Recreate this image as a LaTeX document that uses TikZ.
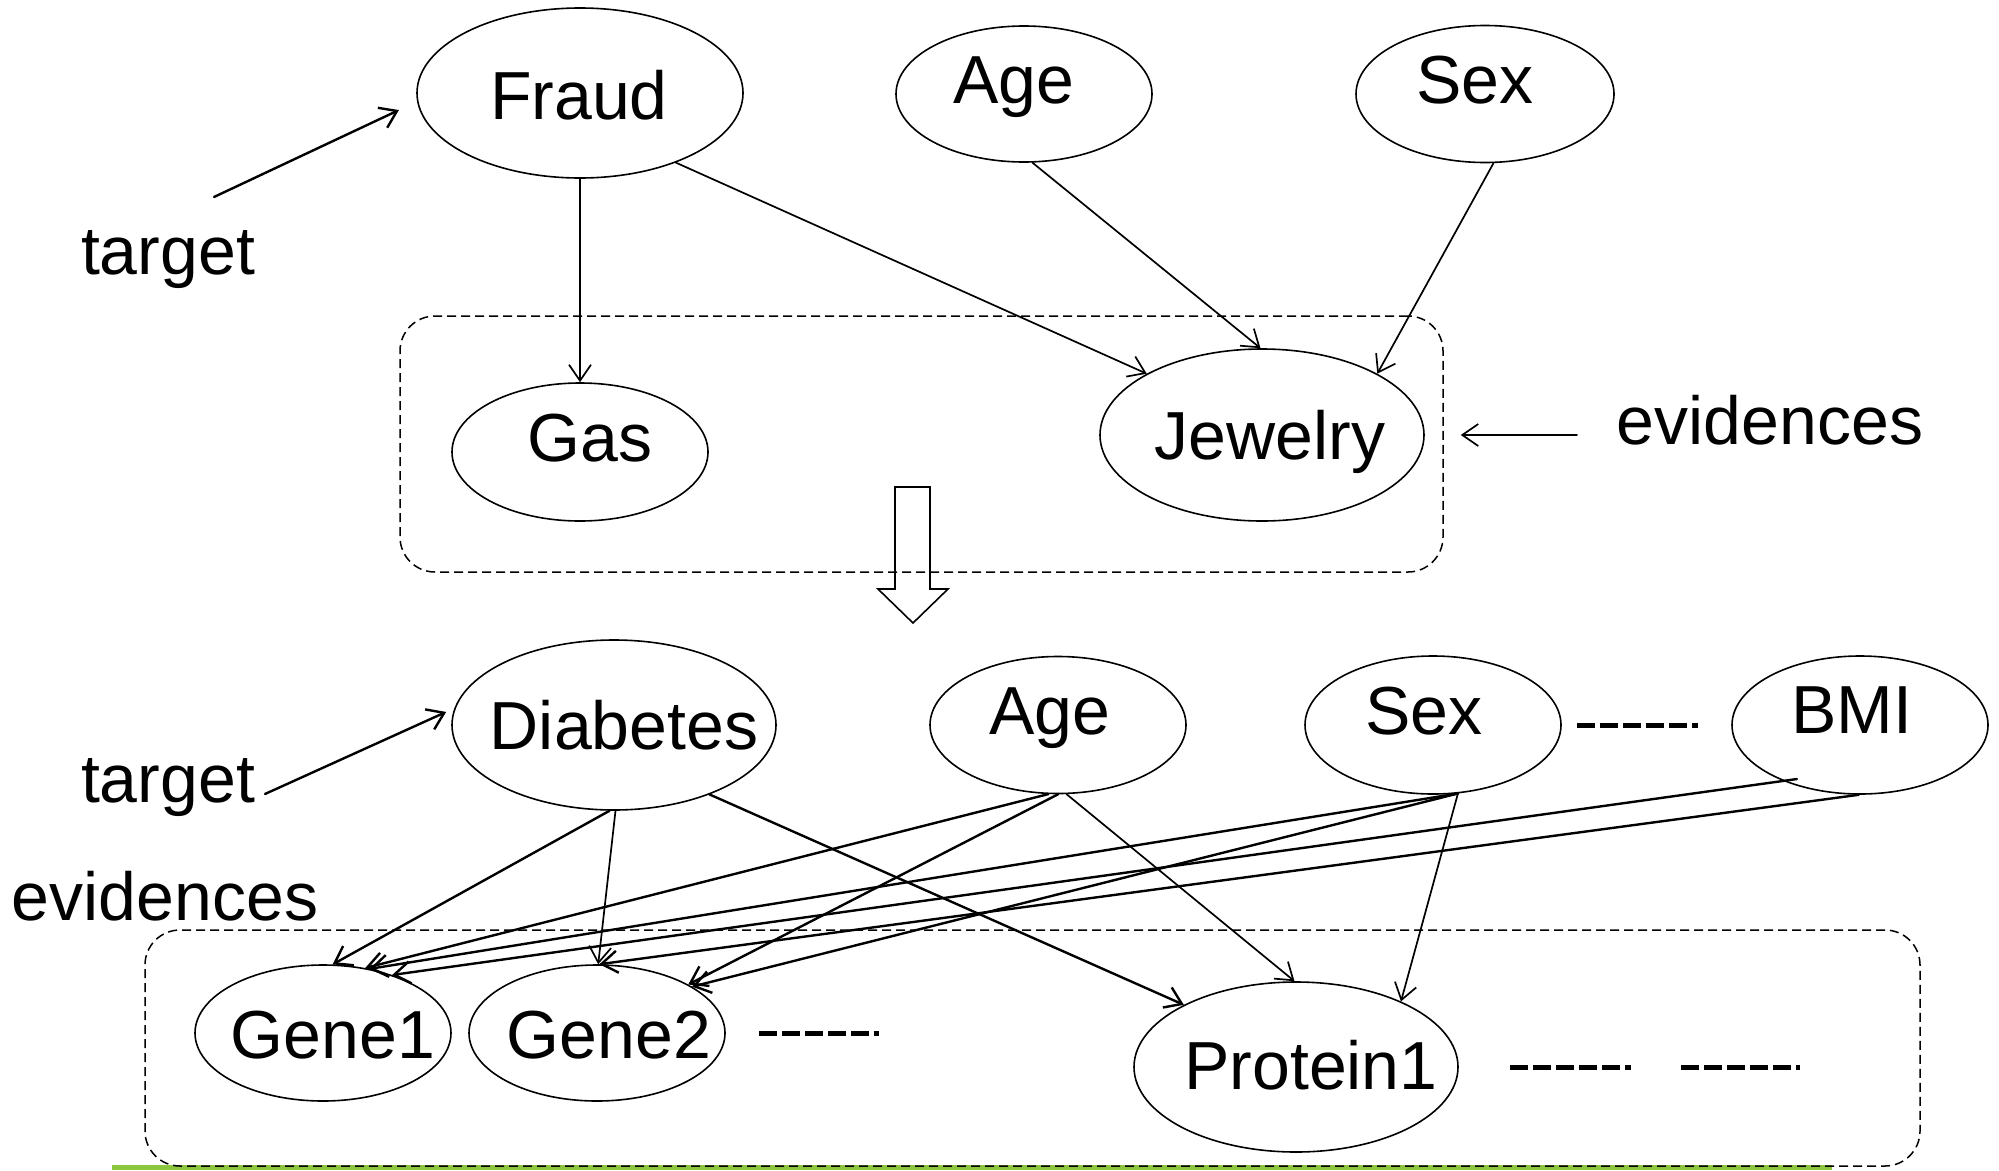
\documentclass[tikz,border=0pt]{standalone}
\usepackage{fontspec}
\setmainfont{Liberation Sans}
\usetikzlibrary{arrows.meta,shapes.geometric}
\definecolor{leaf}{RGB}{140,198,63}
\begin{document}
\begin{tikzpicture}[x=1pt,y=-1pt,
  var/.style={draw, ellipse, line width=1.6pt, inner sep=0pt, fill=white},
  lbl/.style={inner sep=0pt, anchor=base, font=\fontsize{68}{80}\selectfont},
  edge/.style={-{Straight Barb[length=16pt,width=22pt]}, line width=1.7pt, line cap=round},
  edgeb/.style={edge, line width=2.4pt},
  group/.style={draw, rectangle, inner sep=0pt, dash pattern=on 9pt off 5pt,
    rounded corners=35pt, line width=1.5pt},
  more/.style={line width=5pt, dash pattern=on 18pt off 5pt}]
\useasboundingbox (0,0) rectangle (1999,1170);

% green rule along the bottom
\draw[leaf, line width=5pt] (112,1167.5) -- (1832,1167.5);

% hollow block arrow between the two networks
\draw[line width=1.6pt, fill=white, line join=miter]
  (895,487) -- (930,487) -- (930,589) -- (948,589) -- (913,623)
  -- (878,589) -- (895,589) -- cycle;

% evidence groups
\node[group, minimum width=1043pt, minimum height=256pt] (topbox) at (921.5,444) {};
\node[group, minimum width=1775pt, minimum height=236pt] (lowbox) at (1032.5,1048) {};

% upper network
\node[var, minimum width=326pt, minimum height=170pt] (fraud) at (580,93) {};
\node[var, minimum width=256pt, minimum height=136pt] (age1) at (1024,94) {};
\node[var, minimum width=258pt, minimum height=137pt] (sex1) at (1485,94) {};
\node[var, minimum width=256pt, minimum height=138pt] (gas) at (580,452) {};
\node[var, minimum width=324pt, minimum height=172pt] (jewelry) at (1262,435) {};

\node[lbl] (fraud-t) at (579,119) {Fraud};
\node[lbl] (age1-t) at (1014,103) {Age};
\node[lbl] (sex1-t) at (1475,103) {Sex};
\node[lbl] (gas-t) at (590,461) {Gas};
\node[lbl] (jewelry-t) at (1270,459) {Jewelry};
\node[lbl] (target1) at (168,274) {target};
\node[lbl] (evid1) at (1770,444) {evidences};

\coordinate (t1tail) at (214,197);
\coordinate (evtail) at (1577,435);

\draw[edgeb, shorten >=20pt] (t1tail) -- (fraud.183);
\draw[edge] (fraud.south) -- (gas.north);
\draw[edge] (fraud.-36) -- (jewelry.152);
\draw[edge] (age1.-83) -- (jewelry.91);
\draw[edge] (sex1.-83) -- (jewelry.28);
\draw[edge, shorten >=17pt] (evtail) -- (evtail -| topbox.east);

% lower network
\node[var, minimum width=324pt, minimum height=170pt] (diabetes) at (614,725) {};
\node[var, minimum width=256pt, minimum height=137pt] (age2) at (1058,725) {};
\node[var, minimum width=256pt, minimum height=138pt] (sex2) at (1433,725) {};
\node[var, minimum width=256pt, minimum height=138pt] (bmi) at (1860,725) {};
\node[var, minimum width=256pt, minimum height=136pt] (gene1) at (323,1033) {};
\node[var, minimum width=256pt, minimum height=136pt] (gene2) at (597,1033) {};
\node[var, minimum width=324pt, minimum height=170pt] (protein1) at (1296,1067) {};

\node[lbl] (diabetes-t) at (624,749) {Diabetes};
\node[lbl] (age2-t) at (1050,734) {Age};
\node[lbl] (sex2-t) at (1424,734) {Sex};
\node[lbl] (bmi-t) at (1852,733) {BMI};
\node[lbl] (gene1-t) at (333,1058) {Gene1};
\node[lbl] (gene2-t) at (609,1058) {Gene2};
\node[lbl] (protein1-t) at (1311,1089) {Protein1};
\node[lbl] (target2) at (168,802) {target};
\node[lbl] (evid2) at (165,920) {evidences};

% "and so on" fillers
\draw[more] (1577,725) -- (1698,725);
\draw[more] (759,1033) -- (879,1033);
\draw[more] (1510,1067) -- (1631,1067);
\draw[more] (1681,1067) -- (1800,1067);

\coordinate (t2tail) at (265,794);
\draw[edgeb, shorten >=9pt] (t2tail) -- (diabetes.174);

\draw[edgeb] (diabetes.-93) -- (gene1.82);
\draw[edge] (diabetes.-89) -- (gene2.89);
\draw[edgeb] (diabetes.-36) -- (protein1.151);
\draw[edgeb] (age2.-98) -- (gene1.57);
\draw[edgeb] (age2.-90) -- (gene2.28);
\draw[edge] (age2.-83) -- (protein1.91);
\draw[edgeb] (sex2.-70) -- (gene1.54);
\draw[edgeb] (sex2.-70) -- (gene2.26);
\draw[edge] (sex2.-70) -- (protein1.32);
\draw[edgeb, shorten <=-14pt] (bmi.-144) -- (gene1.40);
\draw[edgeb] (bmi.-91) -- (gene2.88);
\end{tikzpicture}
\end{document}
